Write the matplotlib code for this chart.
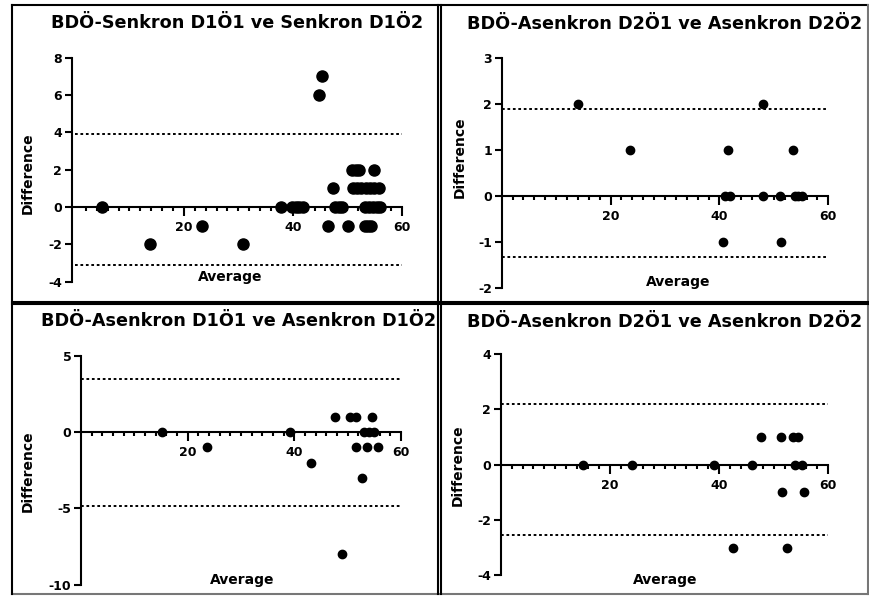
import matplotlib
matplotlib.use("Agg")
import matplotlib.pyplot as plt
from matplotlib.lines import Line2D

plt.rcParams['font.family'] = ['DejaVu Sans']
plt.rcParams['font.weight'] = 'bold'
plt.rcParams['axes.unicode_minus'] = False

W, H = 870, 596

# panel data
titles = ["BDÖ-Senkron D1Ö1 ve Senkron D1Ö2",
          "BDÖ-Asenkron D2Ö1 ve Asenkron D2Ö2",
          "BDÖ-Asenkron D1Ö1 ve Asenkron D1Ö2",
          "BDÖ-Asenkron D2Ö1 ve Asenkron D2Ö2"]

x1 = [5.0, 13.8, 23.3, 30.9, 37.8, 39.8, 40.5, 41.2, 41.9, 44.9, 45.4, 46.5,
      47.4, 47.7, 48.4, 49.0, 50.2, 50.8, 51.6, 52.1, 54.9, 51.0, 51.8, 52.6,
      53.4, 54.2, 55.0, 55.8, 53.3, 54.0, 54.7, 55.4, 56.0, 53.3, 53.8, 54.3]
y1 = [0, -2, -1, -2, 0, 0, 0, 0, 0, 6, 7, -1,
      1, 0, 0, 0, -1, 2, 2, 2, 2, 1, 1, 1,
      1, 1, 1, 1, 0, 0, 0, 0, 0, -1, -1, -1]
lim1 = [3.9, -3.08]
yt1 = [-4, -2, 0, 2, 4, 6, 8]

x2 = [14.0, 23.5, 40.6, 41.0, 41.5, 42.0, 48.0, 48.0, 51.1, 51.4, 53.5, 53.8, 54.4, 55.1]
y2 = [2, 1, -1, 0, 1, 0, 2, 0, 0, -1, 1, 0, 0, 0]
lim2 = [1.89, -1.34]
yt2 = [-2, -1, 0, 1, 2, 3]

x3 = [15.2, 23.7, 39.1, 43.1, 47.6, 49.0, 50.4, 51.6, 51.6, 52.6, 53.1, 54.0,
      55.0, 53.6, 54.5, 55.6]
y3 = [0, -1, 0, -2, 1, -8, 1, 1, -1, -3, 0, 0, 0, -1, 1, -1]
lim3 = [3.45, -4.87]
yt3 = [-10, -5, 0, 5]

x4 = [15.1, 24.1, 39.1, 42.6, 46.0, 47.6, 51.4, 51.6, 52.5, 53.5, 54.5, 53.9, 55.1, 55.5]
y4 = [0, 0, 0, -3, 0, 1, 1, -1, -3, 1, 1, 0, 0, -1]
lim4 = [2.2, -2.53]
yt4 = [-4, -2, 0, 2, 4]

xt = [20, 40, 60]

# layout in pixels: left, right, top, bottom of each axes
boxes = [(71.7, 401.7, 57.7, 281.7),
         (501.7, 828.3, 57.7, 287.7),
         (81.0, 401.0, 355.7, 584.7),
         (500.7, 828.3, 354.0, 575.3)]
xstart = [-0.6, 0, 0, 0]
msizes = [8, 6, 6, 6]
title_pos = [(237, 23), (665, 24), (239, 321), (665, 322)]
ylab_pos = [(28, 173), (460, 157), (28, 471), (458, 465)]
xlab_pos = [(230, 277), (678, 282), (242, 580), (665, 580)]

fig = plt.figure(figsize=(W / 100, H / 100), dpi=100)

def fx(px):
    return px / W

def fy(py):
    return 1 - py / H

panels = [(x1, y1, lim1, yt1), (x2, y2, lim2, yt2), (x3, y3, lim3, yt3), (x4, y4, lim4, yt4)]

for i, (xs, ys, lims, yts) in enumerate(panels):
    l, r, t, b = boxes[i]
    ax = fig.add_axes([fx(l), fy(b), (r - l) / W, (b - t) / H])
    ax.plot(xs, ys, 'o', color='black', ms=msizes[i], clip_on=False, zorder=3)
    for v in lims:
        ax.plot([0, 60], [v, v], color='black', lw=1.4, ls=(0, (1.4, 1.4)), clip_on=False)
    ax.set_xlim(xstart[i], 60)
    ax.set_ylim(yts[0], yts[-1])
    ax.set_yticks(yts)
    ax.set_xticks(xt)
    ax.set_xticks(range(2, 60, 2), minor=True)
    ax.spines['top'].set_visible(False)
    ax.spines['right'].set_visible(False)
    ax.spines['bottom'].set_position(('data', 0))
    for s in ['left', 'bottom']:
        ax.spines[s].set_linewidth(1.5)
    ax.tick_params(axis='x', which='major', direction='out', length=6.5, width=1.5,
                   pad=3.5, labelsize=9)
    ax.tick_params(axis='x', which='minor', direction='out', length=3.2, width=1.5)
    ax.tick_params(axis='y', which='major', direction='out', length=5, width=1.5,
                   pad=2, labelsize=9)
    for lab in ax.get_xticklabels() + ax.get_yticklabels():
        lab.set_fontweight('bold')

    fig.text(fx(title_pos[i][0]), fy(title_pos[i][1]), titles[i], ha='center', va='center',
             fontsize=12.7, fontweight='bold')
    fig.text(fx(ylab_pos[i][0]), fy(ylab_pos[i][1]), 'Difference', ha='center', va='center',
             rotation=90, fontsize=10, fontweight='bold')
    fig.text(fx(xlab_pos[i][0]), fy(xlab_pos[i][1]), 'Average', ha='center', va='center',
             fontsize=10, fontweight='bold')

# frame lines around the panels
def hline(py, x0, x1_, color='black', lw=1.5):
    fig.add_artist(Line2D([fx(x0), fx(x1_)], [fy(py), fy(py)], color=color, lw=lw))

def vline(px, y0, y1_, color='black', lw=1.5):
    fig.add_artist(Line2D([fx(px), fx(px)], [fy(y0), fy(y1_)], color=color, lw=lw))

hline(5, 12, 868)
hline(594, 12, 868, color='#777777')
vline(12, 5, 594)
vline(868, 5, 594, color='#777777')
vline(438.5, 5, 594)
vline(441.5, 5, 594)
hline(301.5, 12, 868)
hline(304, 12, 868)

fig.savefig('out.png', dpi=100)
